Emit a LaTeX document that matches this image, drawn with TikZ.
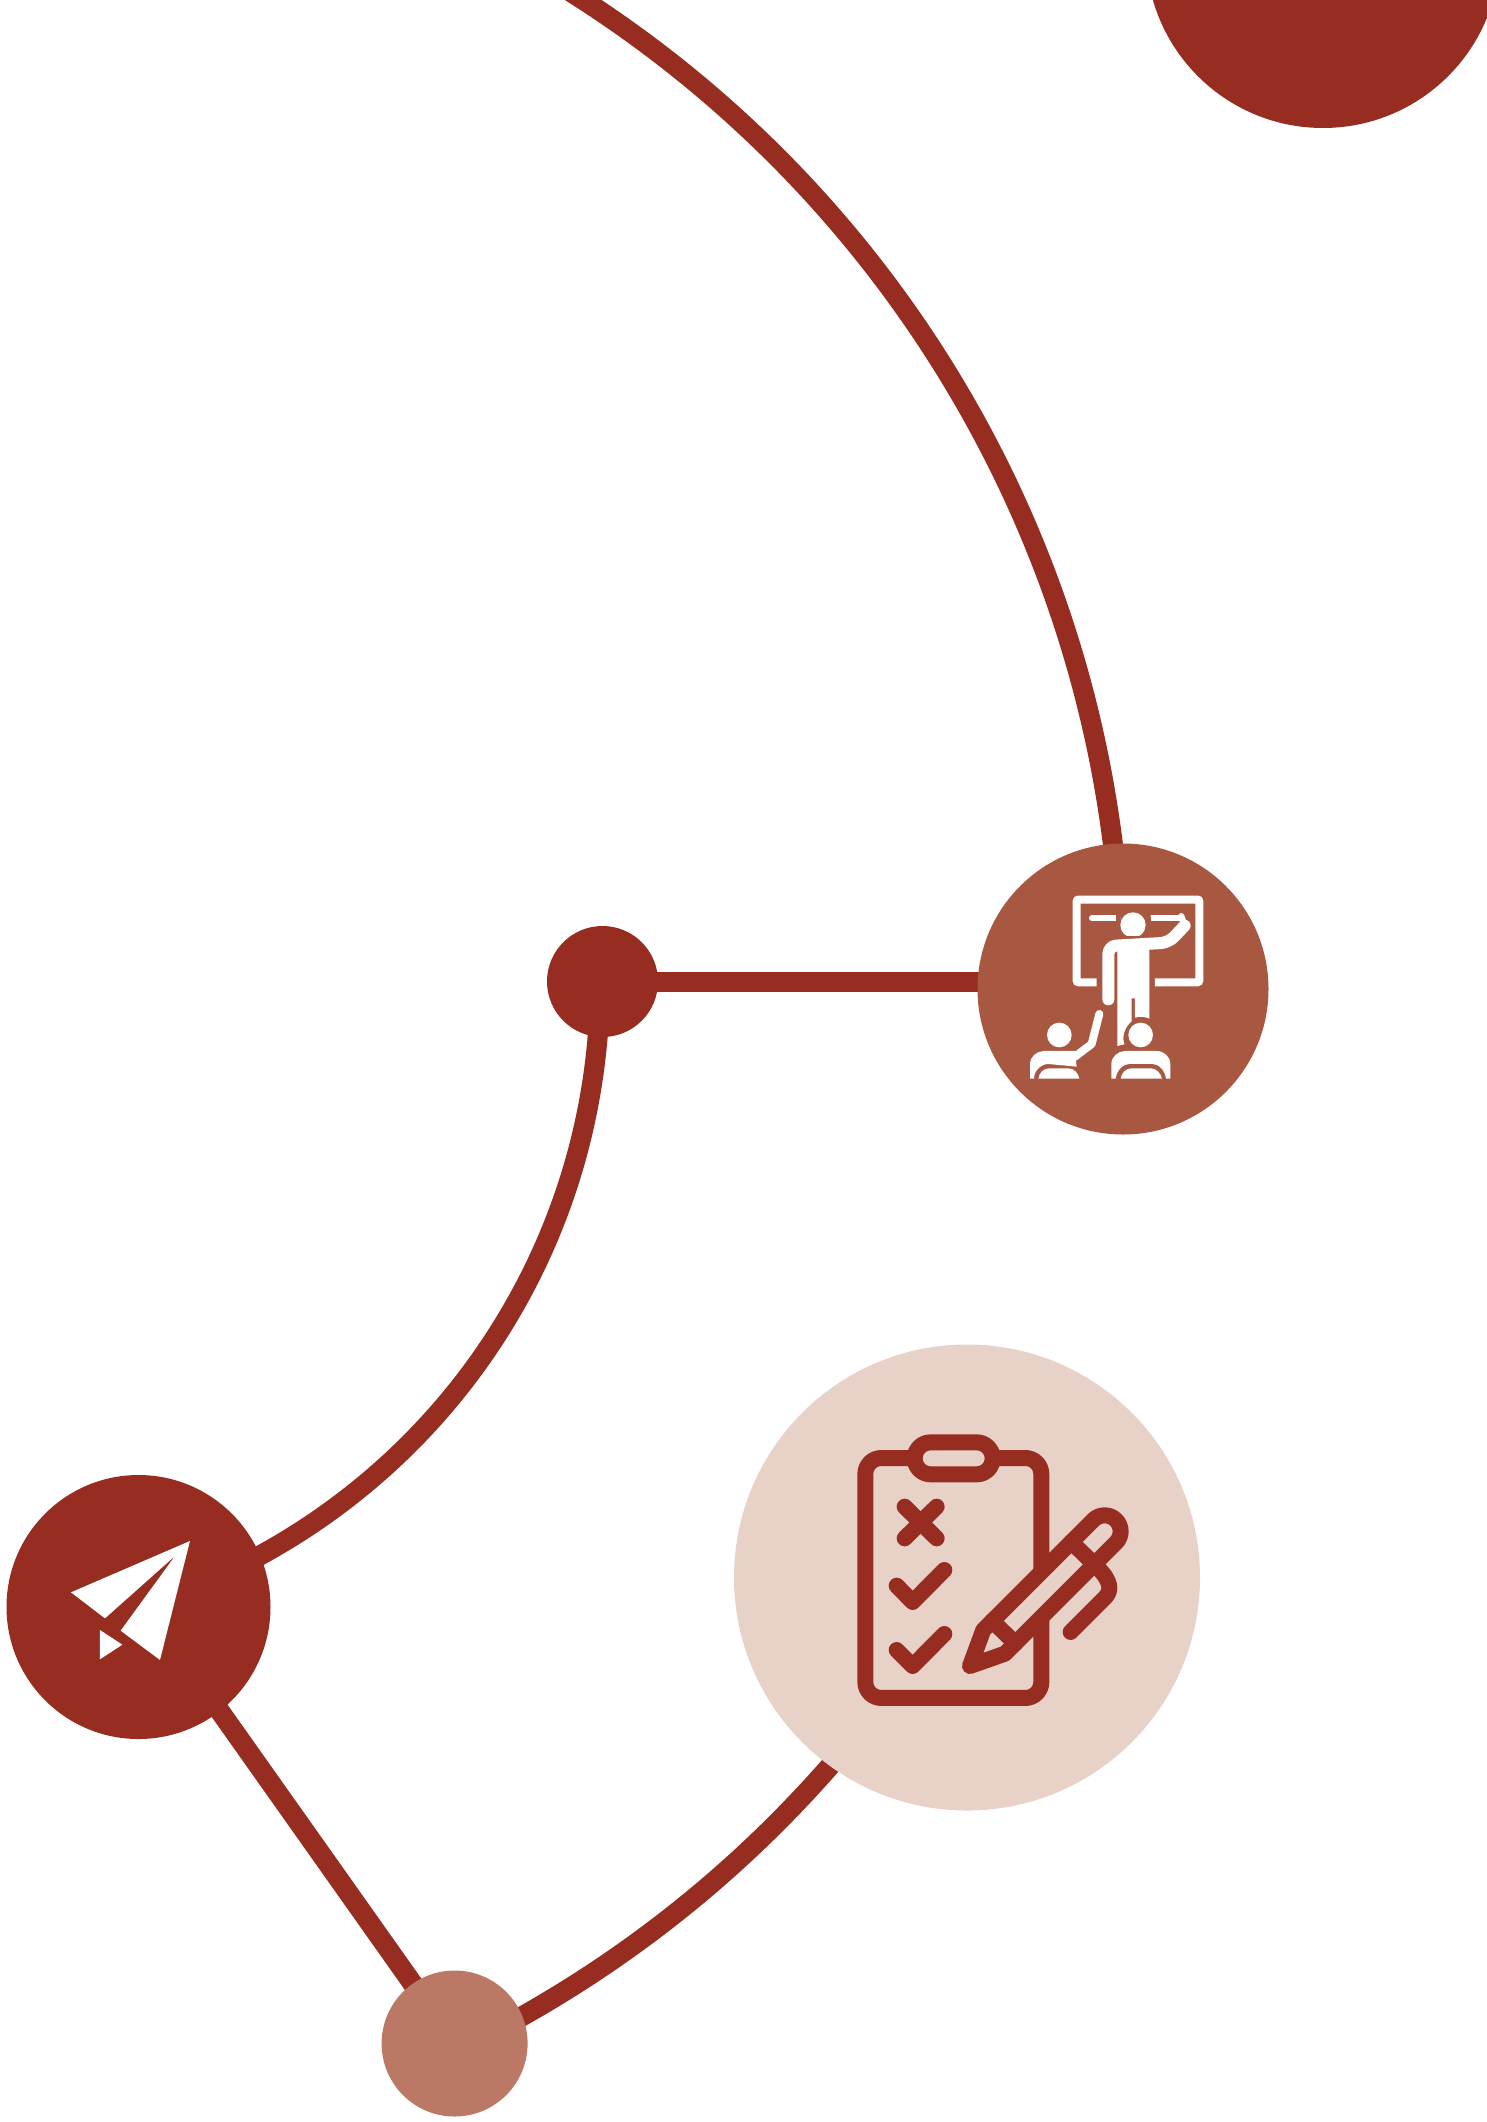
\documentclass[tikz,border=0pt]{standalone}
\usetikzlibrary{backgrounds}
\definecolor{darkred}{HTML}{962D20}
\definecolor{midred}{HTML}{A85741}
\definecolor{softred}{HTML}{BB7965}
\definecolor{palered}{HTML}{E8D2C8}
\tikzset{
	dot/.style={circle,draw=none,inner sep=0pt},
	linkline/.style={line width=20pt,darkred,shorten <=-4pt,shorten >=-4pt},
	penline/.style={line width=16pt,darkred,line cap=round,line join=round},
	thinwhite/.style={white,line cap=round,line join=round}
}
\begin{document}
\begin{tikzpicture}[x=1pt,y=-1pt]
		\useasboundingbox (0,0) rectangle (1487,2122);

		\node[dot,fill=darkred,minimum size=354pt] (topnode) at (1323,-49) {};
		\node[dot,fill=midred,minimum size=291pt] (teachnode) at (1123,989) {};
		\node[dot,fill=darkred,minimum size=111pt] (hubnode) at (602.5,981.5) {};
		\node[dot,fill=palered,minimum size=466pt] (checknode) at (967,1577.5) {};
		\node[dot,fill=darkred,minimum size=264pt] (planenode) at (138.5,1607) {};
		\node[dot,fill=softred,minimum size=146pt] (lastnode) at (454.6,2043.5) {};
		\coordinate (topend) at (574,-6);

		\begin{pgfonlayer}{background}
		\draw[linkline] (topend) to[bend left=25.4,looseness=0.895] (teachnode.94);
		\draw[linkline] (hubnode) -- (hubnode -| teachnode.west);
		\draw[linkline] (hubnode.265) to[bend left=28.6,looseness=0.906] (planenode.23);
		\draw[linkline] (planenode.308) -- (lastnode.125.5);
		\draw[linkline] (checknode.234) to[bend left=9.8,looseness=0.858] (lastnode.22);
		\end{pgfonlayer}

		% teacher
		\begin{scope}[shift={(980,860)},x=0.3333pt,y=-0.3333pt]
		\draw[white,line width=8pt,rounded corners=2pt] (350,367) -- (290,367) -- (290,118.5) -- (658,118.5) -- (658,367) -- (525,367);
		\draw[thinwhite,line width=6pt] (336,175) -- (412,175);
		\draw[thinwhite,line width=6pt] (508,175) -- (605,175);
		\fill[midred] (408,150) -- (421,150) -- (421,190) -- (408,190) -- cycle;
		\fill[midred] (498,150) -- (510,150) -- (514,190) -- (498,190) -- cycle;
		\begin{scope}
		\clip (400,140) rectangle (520,225);
		\fill[white] (459,195) circle[radius=38];
		\end{scope}
		\draw[thinwhite,line width=12pt,rounded corners=8pt] (385,418) -- (385,258) -- (566,248) -- (614,197);
		\draw[thinwhite,line width=6pt] (614,197) -- (604,168);
		\fill[white] (412,258) -- (412,558) -- (433,553) .. controls (425,530) and (435,500) .. (455,484) -- (455,415) -- (465,415) -- (465,473) .. controls (480,468) and (495,470) .. (508,476) -- (508,258) -- cycle;
		\fill[white] (238,525) circle[radius=37];
		\fill[white] (482,525) circle[radius=37];
		\draw[thinwhite,line width=8pt] (285,590) -- (335,552) -- (358,462);
		\fill[white] (150,656) -- (150,612) .. controls (150,590) and (170,573) .. (192,573) -- (285,573) -- (290,620) -- (205,612) .. controls (185,612) and (162,630) .. (162,656) -- cycle;
		\fill[white] (175,656) .. controls (178,638) and (190,625) .. (208,625) -- (265,625) .. controls (283,625) and (295,640) .. (298,656) -- cycle;
		\fill[white] (394,656) -- (394,612) .. controls (394,590) and (414,573) .. (436,573) -- (530,573) .. controls (552,573) and (571,590) .. (571,612) -- (571,656) -- (558,656) .. controls (555,630) and (535,612) .. (518,612) -- (448,612) .. controls (430,612) and (410,630) .. (407,656) -- cycle;
		\fill[white] (422,656) .. controls (425,638) and (437,625) .. (455,625) -- (512,625) .. controls (530,625) and (542,640) .. (546,656) -- cycle;
		\end{scope}

		% paper plane
		\begin{scope}[shift={(0,1460)},x=0.3333pt,y=-0.3333pt]
		\fill[white] (213,397) -- (570,243) -- (480,600) -- (362,512) -- (525,288) -- (315,475) -- cycle;
		\fill[white] (300,510) -- (367,554) -- (300,598) -- cycle;
		\end{scope}

		% clipboard and pen
		\begin{scope}[shift={(840,1410)},x=0.3333pt,y=-0.3333pt]
		\draw[penline,rounded corners=16pt] (76,144) rectangle (604,864);
		\draw[penline,fill=palered,rounded corners=16pt] (224,97) rectangle (458,193);
		\draw[penline] (194,290) -- (290,385);
		\draw[penline] (290,290) -- (194,385);
		\draw[penline] (170,527) -- (218,576) -- (313,480);
		\draw[penline] (170,720) -- (218,768) -- (313,672);
		\draw[penline,fill=palered] (390,768) -- (430,660) -- (760,330) .. controls (778.7,311.3) and (809.3,311.3) .. (828,330) .. controls (846.7,348.7) and (846.7,379.3) .. (828,398) -- (495,731) -- cycle;
		\draw[penline] (694,396) -- (763,463);
		\draw[penline] (457,633) -- (526,700);
		\draw[penline] (692,666) -- (795,563) .. controls (815,543) and (815,515) .. (775,475);
		\end{scope}
		\end{tikzpicture}
\end{document}
